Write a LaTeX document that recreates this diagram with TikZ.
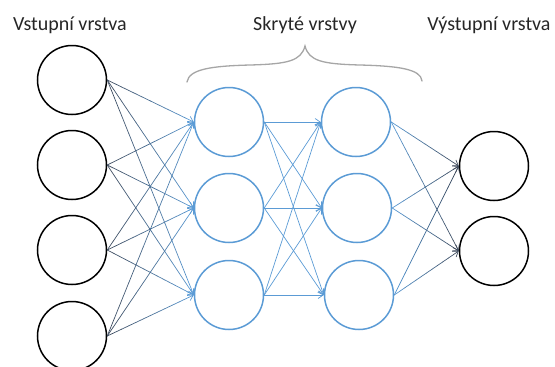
\documentclass[tikz,border=0pt]{standalone}
\usepackage{fontspec}
\setmainfont{Carlito}
\usetikzlibrary{calc,arrows.meta}

\definecolor{nodeblue}{HTML}{5B9BD5}
\definecolor{edgedark}{HTML}{3E4A5C}
\definecolor{bracegray}{HTML}{A6A6A6}

% connector from #1.east to #2.west, colour fading from #3 to #4
\newcommand\fadeedge[4]{%
  \foreach \k in {1,...,11}{%
    \pgfmathsetmacro\pa{(\k-1)/12}%
    \pgfmathsetmacro\pb{\k/12}%
    \pgfmathtruncatemacro\mix{100*(\k-0.5)/12}%
    \draw[conn, draw=#4!\mix!#3] ($(#1.east)!\pa!(#2.west)$) -- ($(#1.east)!\pb!(#2.west)$);
  }%
  \draw[conn, draw=#4, -{Straight Barb[length=5pt,width=7pt]}] ($(#1.east)!11/12!(#2.west)$) -- (#2.west);
}

\begin{document}
\begin{tikzpicture}[x=1pt,y=-1pt,
  inneuron/.style={circle, draw=black, line width=1.5pt, minimum size=69pt, inner sep=0pt},
  hidneuron/.style={circle, draw=nodeblue, line width=1.5pt, minimum size=69pt, inner sep=0pt},
  conn/.style={line width=0.7pt, line cap=round},
  lbl/.style={font=\fontsize{20}{24}\selectfont, text=black!85, anchor=base, inner sep=0pt}]
\useasboundingbox (0,0) rectangle (555,367);

% layer titles
\node[lbl] (tin)  at (70,30)  {Vstupní vrstva};
\node[lbl] (thid) at (305,30) {Skryté vrstvy};
\node[lbl] (tout) at (489,30) {Výstupní vrstva};

% curly brace over the hidden layers
\draw[bracegray, line width=1.3pt, line cap=round]
  (187,82) .. controls (189,69) and (212,66) .. (250,65)
  .. controls (288,64) and (301,61) .. (305,46)
  .. controls (309,61) and (322,64) .. (360,65)
  .. controls (398,66) and (421,69) .. (422,81);

% neurons
\node[inneuron] (in1) at (72,80) {};
\node[inneuron] (in2) at (72,165) {};
\node[inneuron] (in3) at (72,250) {};
\node[inneuron] (in4) at (72,336) {};

\node[hidneuron] (h1) at (229,122) {};
\node[hidneuron] (h2) at (229,208) {};
\node[hidneuron] (h3) at (229,295) {};

\node[hidneuron] (g1) at (356,122) {};
\node[hidneuron] (g2) at (357,208) {};
\node[hidneuron] (g3) at (359,295) {};

\node[inneuron] (out1) at (494,166) {};
\node[inneuron] (out2) at (494,251) {};

% input -> first hidden layer
\foreach \i in {1,2,3,4}{
  \foreach \j in {1,2,3}{
    \fadeedge{in\i}{h\j}{edgedark}{nodeblue}
  }
}
% first -> second hidden layer
\foreach \i in {1,2,3}{
  \foreach \j in {1,2,3}{
    \draw[conn, draw=nodeblue, -{Straight Barb[length=5pt,width=7pt]}] (h\i.east) -- (g\j.west);
  }
}
% second hidden layer -> output
\foreach \i in {1,2,3}{
  \foreach \j in {1,2}{
    \fadeedge{g\i}{out\j}{nodeblue}{edgedark}
  }
}
\end{tikzpicture}
\end{document}
